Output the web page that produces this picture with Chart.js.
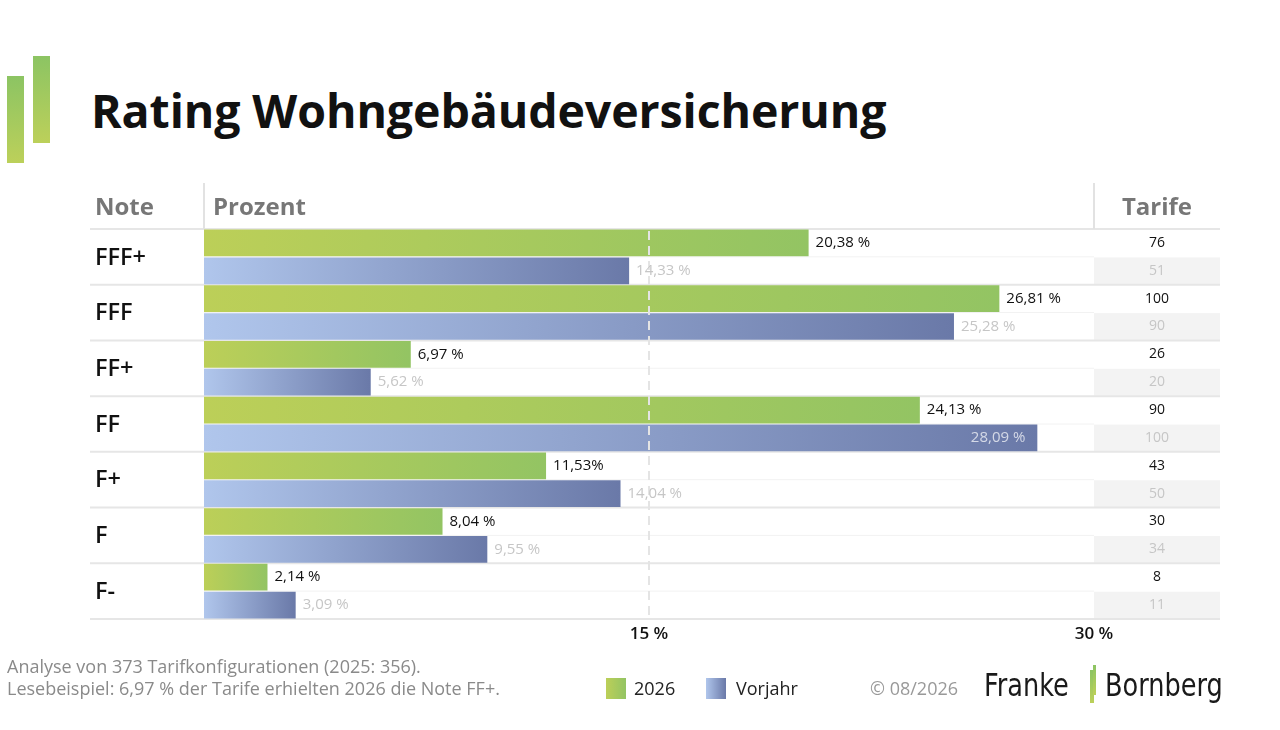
<!DOCTYPE html>
<html lang="de">
<head>
<meta charset="utf-8">
<title>Rating Wohngebäudeversicherung</title>
<script src="https://cdn.jsdelivr.net/npm/chart.js@4.4.1/dist/chart.umd.min.js"></script>
<style>
    body { margin: 0; width: 1280px; height: 730px; background: #fff; position: relative; overflow: hidden; font-family: 'Open Sans', sans-serif; }
    #chart { position: absolute; left: 0; top: 0; }
    .bar { position: absolute; background: linear-gradient(#8cc463, #bcd05a); }
    h1 { position: absolute; left: 91px; top: 78px; margin: 0; font-size: 46.5px; font-weight: 700; color: #111; letter-spacing: -0.1px; }
    .foot { position: absolute; left: 7px; top: 655px; font-size: 18px; line-height: 22px; color: #8a8a8a; }
    .leg { position: absolute; top: 675px; font-size: 18px; color: #222; line-height: 26px; }
    .sw { position: absolute; top: 678px; width: 20px; height: 21px; }
    .copy { position: absolute; left: 870px; top: 675px; font-size: 18px; color: #999; line-height: 26px; }
    .brand { position: absolute; top: 665px; font-family: 'DejaVu Sans Condensed', 'Liberation Sans Narrow', sans-serif; font-size: 32px; color: #1a1a1a; line-height: 40px; transform: scaleX(0.89); transform-origin: left center; }
</style>
</head>
<body>
<div class="bar" style="left:7px; top:76px; width:17px; height:87px;"></div>
<div class="bar" style="left:33px; top:56px; width:17px; height:87px;"></div>
<h1>Rating Wohngebäudeversicherung</h1>

<canvas id="chart" width="1280" height="730"></canvas>

<div class="foot">Analyse von 373 Tarifkonfigurationen (2025: 356).<br>Lesebeispiel: 6,97 % der Tarife erhielten 2026 die Note FF+.</div>
<div class="sw" style="left:606px; background:linear-gradient(90deg,#bccf58,#93c463);"></div>
<div class="leg" style="left:634px;">2026</div>
<div class="sw" style="left:706px; background:linear-gradient(90deg,#b0c6ec,#6a79a8);"></div>
<div class="leg" style="left:736px;">Vorjahr</div>
<div class="copy">© 08/2026</div>
<div class="brand" style="left:984px;">Franke</div>
<div class="bar" style="left:1090px; top:670px; width:4px; height:33px;"></div>
<div class="bar" style="left:1093px; top:665px; width:3px; height:30px;"></div>
<div class="brand" style="left:1105px;">Bornberg</div>

<script>
    // Data
    const noten = ['FFF+', 'FFF', 'FF+', 'FF', 'F+', 'F', 'F-'];
    const prozent2026 = [20.38, 26.81, 6.97, 24.13, 11.53, 8.04, 2.14];
    const prozentVorjahr = [14.33, 25.28, 5.62, 28.09, 14.04, 9.55, 3.09];
    const text2026 = ['20,38 %', '26,81 %', '6,97 %', '24,13 %', '11,53%', '8,04 %', '2,14 %'];
    const textVorjahr = ['14,33 %', '25,28 %', '5,62 %', '28,09 %', '14,04 %', '9,55 %', '3,09 %'];
    const tarife2026 = [76, 100, 26, 90, 43, 30, 8];
    const tarifeVorjahr = [51, 90, 20, 100, 50, 34, 11];
    const xTicks = [15, 30];
    const xTickLabels = ['15 %', '30 %'];
    const headers = ['Note', 'Prozent', 'Tarife'];

    const tableLeft = 90;
    const tableRight = 1220;
    const headerTop = 183;

    function barGradient(context, from, to) {
        const chart = context.chart;
        if (!chart.chartArea) return to;
        const scale = chart.scales.x;
        const x0 = scale.getPixelForValue(0);
        const x1 = scale.getPixelForValue(context.raw);
        const g = chart.ctx.createLinearGradient(x0, 0, Math.max(x1, x0 + 1), 0);
        g.addColorStop(0, from);
        g.addColorStop(1, to);
        return g;
    }

    const tablePlugin = {
        id: 'table',
        beforeDatasetsDraw(chart) {
            const ctx = chart.ctx;
            const area = chart.chartArea;
            const y = chart.scales.y;
            const step = (area.bottom - area.top) / noten.length;
            const metaV = chart.getDatasetMeta(1);
            ctx.save();
            // grey cells for Vorjahr in the Tarife column
            metaV.data.forEach(bar => {
                ctx.fillStyle = '#f3f3f3';
                ctx.fillRect(area.right, bar.y - bar.height / 2, tableRight - area.right, bar.height);
            });
            // faint lines between the two bars
            ctx.strokeStyle = '#f2f2f2';
            ctx.lineWidth = 1;
            noten.forEach((n, i) => {
                const mid = y.getPixelForValue(i);
                ctx.beginPath();
                ctx.moveTo(area.left, mid);
                ctx.lineTo(area.right, mid);
                ctx.stroke();
            });
            // row lines
            ctx.strokeStyle = '#e6e6e6';
            ctx.lineWidth = 2;
            for (let i = 0; i <= noten.length; i++) {
                const ly = area.top + i * step;
                ctx.beginPath();
                ctx.moveTo(tableLeft, ly);
                ctx.lineTo(tableRight, ly);
                ctx.stroke();
            }
            // header separators
            ctx.strokeStyle = '#e2e2e2';
            [area.left, area.right].forEach(lx => {
                ctx.beginPath();
                ctx.moveTo(lx, headerTop);
                ctx.lineTo(lx, area.top);
                ctx.stroke();
            });
            ctx.restore();
        },
        afterDatasetsDraw(chart) {
            const ctx = chart.ctx;
            const area = chart.chartArea;
            const x = chart.scales.x;
            const y = chart.scales.y;
            const tarifeX = (area.right + tableRight) / 2;
            ctx.save();

            // dashed 15 % line
            ctx.strokeStyle = '#e4e4e4';
            ctx.lineWidth = 2;
            ctx.setLineDash([9, 6]);
            ctx.beginPath();
            ctx.moveTo(x.getPixelForValue(xTicks[0]), area.top + 2);
            ctx.lineTo(x.getPixelForValue(xTicks[0]), area.bottom);
            ctx.stroke();
            ctx.setLineDash([]);

            // value labels
            ctx.font = '500 15px "Open Sans", sans-serif';
            ctx.textBaseline = 'middle';
            const sets = [
                { meta: chart.getDatasetMeta(0), texts: text2026, color: '#111' },
                { meta: chart.getDatasetMeta(1), texts: textVorjahr, color: '#c6c6c6' }
            ];
            sets.forEach(s => {
                s.meta.data.forEach((bar, i) => {
                    const t = s.texts[i];
                    const w = ctx.measureText(t).width;
                    if (bar.x + 7 + w > area.right - 4) {
                        ctx.fillStyle = 'rgba(255,255,255,0.7)';
                        ctx.textAlign = 'right';
                        ctx.fillText(t, bar.x - 12, bar.y);
                    } else {
                        ctx.fillStyle = s.color;
                        ctx.textAlign = 'left';
                        ctx.fillText(t, bar.x + 7, bar.y);
                    }
                });
            });

            // Tarife column
            ctx.textAlign = 'center';
            ctx.font = '500 14px "Open Sans", sans-serif';
            sets[0].meta.data.forEach((bar, i) => {
                ctx.fillStyle = '#111';
                ctx.fillText(String(tarife2026[i]), tarifeX, bar.y);
            });
            sets[1].meta.data.forEach((bar, i) => {
                ctx.fillStyle = '#c6c6c6';
                ctx.fillText(String(tarifeVorjahr[i]), tarifeX, bar.y);
            });

            // Note labels
            ctx.textAlign = 'left';
            ctx.fillStyle = '#111';
            ctx.font = '600 23.5px "Open Sans", sans-serif';
            noten.forEach((n, i) => {
                ctx.fillText(n, 95, y.getPixelForValue(i) + 1);
            });

            // headers
            ctx.fillStyle = '#777';
            ctx.font = 'bold 24px "Open Sans", sans-serif';
            const hy = (headerTop + area.top) / 2 + 2;
            ctx.fillText(headers[0], 95, hy);
            ctx.fillText(headers[1], area.left + 9, hy);
            ctx.textAlign = 'center';
            ctx.fillText(headers[2], tarifeX, hy);

            // x tick labels
            ctx.fillStyle = '#111';
            ctx.font = '600 17px "Open Sans", sans-serif';
            xTicks.forEach((v, i) => {
                ctx.fillText(xTickLabels[i], x.getPixelForValue(v), area.bottom + 15);
            });
            ctx.restore();
        }
    };

    new Chart(document.getElementById('chart'), {
        type: 'bar',
        data: {
            labels: noten,
            datasets: [{
                label: '2026',
                data: prozent2026,
                backgroundColor: c => barGradient(c, '#bccf58', '#93c463'),
                borderWidth: 0
            }, {
                label: 'Vorjahr',
                data: prozentVorjahr,
                backgroundColor: c => barGradient(c, '#b0c6ec', '#6a79a8'),
                borderWidth: 0
            }]
        },
        options: {
            indexAxis: 'y',
            responsive: false,
            animation: false,
            events: [],
            categoryPercentage: 1,
            barPercentage: 0.96,
            layout: { padding: { left: 204, right: 186, top: 229, bottom: 111 } },
            scales: {
                x: { display: false, min: 0, max: 30 },
                y: { display: false }
            },
            plugins: {
                legend: { display: false },
                tooltip: { enabled: false }
            }
        },
        plugins: [tablePlugin]
    });
</script>
</body>
</html>
